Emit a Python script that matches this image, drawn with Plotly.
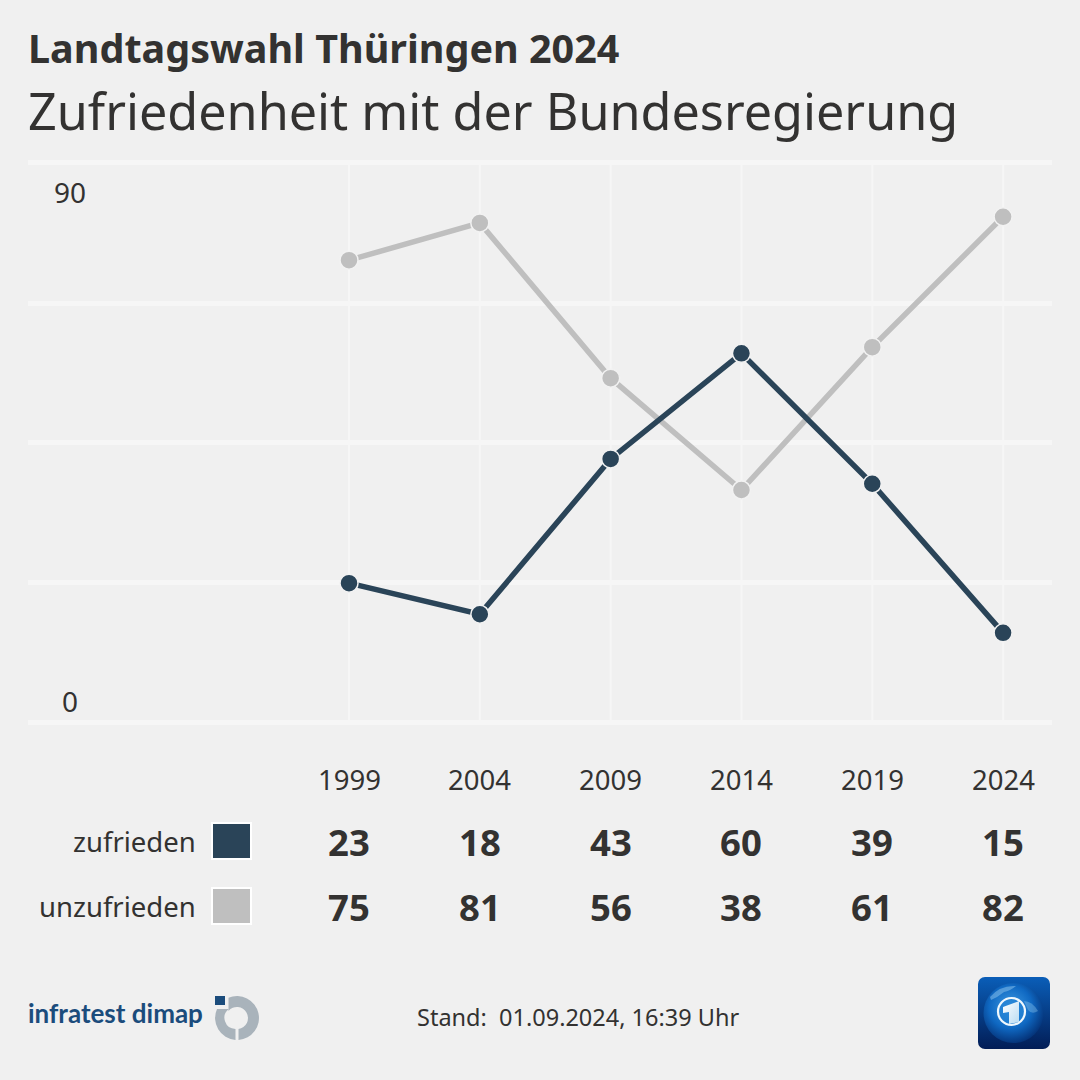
import urllib.parse
import plotly.graph_objects as go

years = [1999, 2004, 2009, 2014, 2019, 2024]
zufrieden = [23, 18, 43, 60, 39, 15]
unzufrieden = [75, 81, 56, 38, 61, 82]
series_names = ["zufrieden", "unzufrieden"]
y_labels = [90, 0]
grid_vals = [0.64, 23.18, 45.7, 68.1, 90.65]
title_text = "Landtagswahl Thüringen 2024"
subtitle_text = "Zufriedenheit mit der Bundesregierung"
stand_text = "Stand:  01.09.2024, 16:39 Uhr"

BG = "#f0f0f0"
DARK = "#2a4458"
GREY = "#bfbfbf"
TEXT = "#333231"
GRID = "#f6f6f6"
FONT = "Noto Sans"
W = H = 1080
L, R, T, B = 28, 1052, 150, 730


def px(x):
    return x / W


def py(y):
    return 1 - y / H


fig = go.Figure()
for name, vals, col in [(series_names[1], unzufrieden, GREY), (series_names[0], zufrieden, DARK)]:
    fig.add_trace(go.Scatter(
        x=years, y=vals, name=name, mode="lines+markers", showlegend=False,
        line=dict(color=col, width=5.5),
        marker=dict(color=col, size=18, line=dict(color="#f2f2f2", width=1.5)),
    ))

ann = []


def text(x, y, s, size, anchor="center", bold=False, color=TEXT, xref="paper", family=FONT):
    ann.append(dict(
        x=px(x) if xref == "paper" else x, y=py(y), xref=xref, yref="paper", text=f"<b>{s}</b>" if bold else s,
        showarrow=False, xanchor=anchor, yanchor="middle",
        font=dict(family=family, size=size, color=color),
    ))


text(26, 48, title_text, 39.5, "left", True)
text(26, 111, subtitle_text, 50.3, "left")
text(70, 192, str(y_labels[0]), 28)
text(70, 701, str(y_labels[1]), 28)
for i, yr in enumerate(years):
    text(yr, 779.5, str(yr), 27.5, xref="x")
    text(yr, 841.5, str(zufrieden[i]), 36.5, bold=True, xref="x")
    text(yr, 906.5, str(unzufrieden[i]), 36.5, bold=True, xref="x")
text(198, 841.5, series_names[0], 27.5, "right")
text(198, 906.5, series_names[1], 27.5, "right")
text(578, 1017, stand_text, 23.5)
text(26, 1013, "infratest dimap", 26, "left", True, "#1b4c7c", family="Lato")

shapes = []
for yr in years:
    shapes.append(dict(type="line", xref="x", yref="paper", x0=yr, x1=yr, y0=py(722), y1=py(163),
                       line=dict(color=GRID, width=2), layer="below"))
for y0, col in [(823, DARK), (888, GREY)]:
    shapes.append(dict(type="rect", xref="paper", yref="paper", x0=px(212), x1=px(251), y0=py(y0), y1=py(y0 + 36),
                       fillcolor=col, line=dict(color="#ffffff", width=2)))

dimap_svg = """<svg xmlns='http://www.w3.org/2000/svg' viewBox='0 0 44 44'>
<rect x='0' y='0' width='10' height='9' fill='#1b4c7c'/>
<path d='M13.5 1.7 A22 22 0 1 1 23.5 43.95 L23.5 32.9 A11 11 0 1 0 13.5 15 Z' fill='#a9b3bb'/>
<path d='M2 13 L14 13 A11 11 0 0 0 20.5 32.9 L20.5 43.95 A22 22 0 0 1 2 13 Z' fill='#a9b3bb'/>
</svg>"""
ard_svg = """<svg xmlns='http://www.w3.org/2000/svg' viewBox='0 0 72 72'>
<defs><radialGradient id='g' cx='45%' cy='40%' r='65%'>
<stop offset='0%' stop-color='#3f9be3'/><stop offset='55%' stop-color='#0f68c2'/><stop offset='100%' stop-color='#032a6c'/></radialGradient>
<linearGradient id='b' x1='0' y1='0' x2='0' y2='1'><stop offset='0%' stop-color='#0a5eb8'/><stop offset='100%' stop-color='#021d56'/></linearGradient>
<linearGradient id='o' x1='0' y1='0' x2='1' y2='1'><stop offset='0%' stop-color='#ffffff'/><stop offset='100%' stop-color='#b9dcf3'/></linearGradient></defs>
<rect width='72' height='72' rx='7' fill='url(#b)'/>
<circle cx='35.5' cy='36' r='30' fill='url(#g)'/>
<path d='M12 20 Q22 8 38 9 Q32 14 26 15 Q20 20 13 23 Z' fill='#9fd0f2' opacity='.45'/>
<path d='M46 24 Q54 24 60 34 Q54 38 50 33 Z' fill='#9fd0f2' opacity='.35'/>
<circle cx='33.5' cy='34.5' r='13.5' fill='#1f80d4' fill-opacity='.6' stroke='#f0f8fd' stroke-width='2.2'/>
<path d='M25 30 L41 24 L41 45 L31 47 L31 35 L25 36 Z' fill='url(#o)'/>
</svg>"""


def uri(svg):
    return "data:image/svg+xml," + urllib.parse.quote(svg)


images = [
    dict(source=uri(dimap_svg), xref="paper", yref="paper", x=px(215), y=py(996), sizex=px(44), sizey=44 / H,
         xanchor="left", yanchor="top", sizing="stretch", layer="above"),
    dict(source=uri(ard_svg), xref="paper", yref="paper", x=px(978), y=py(977), sizex=px(72), sizey=72 / H,
         xanchor="left", yanchor="top", sizing="stretch", layer="above"),
]

fig.update_layout(
    width=W, height=H, paper_bgcolor=BG, plot_bgcolor=BG,
    margin=dict(l=0, r=0, t=0, b=0), showlegend=False,
    annotations=ann, shapes=shapes, images=images,
    xaxis=dict(domain=[px(L), px(R)], range=[1986.73, 2025.87], tickvals=years, showticklabels=False,
               showgrid=False, zeroline=False, showline=False, ticks=""),
    yaxis=dict(domain=[py(B), py(T)], range=[-0.64, 92.74], tickvals=grid_vals, showticklabels=False,
               showgrid=True, gridcolor=GRID, gridwidth=5, zeroline=False, showline=False, ticks=""),
)
fig.update_traces(cliponaxis=False)
fig.write_html("out.html", config={"displayModeBar": False},
               post_script="document.body.style.margin='0';document.documentElement.style.background='#f0f0f0';")
